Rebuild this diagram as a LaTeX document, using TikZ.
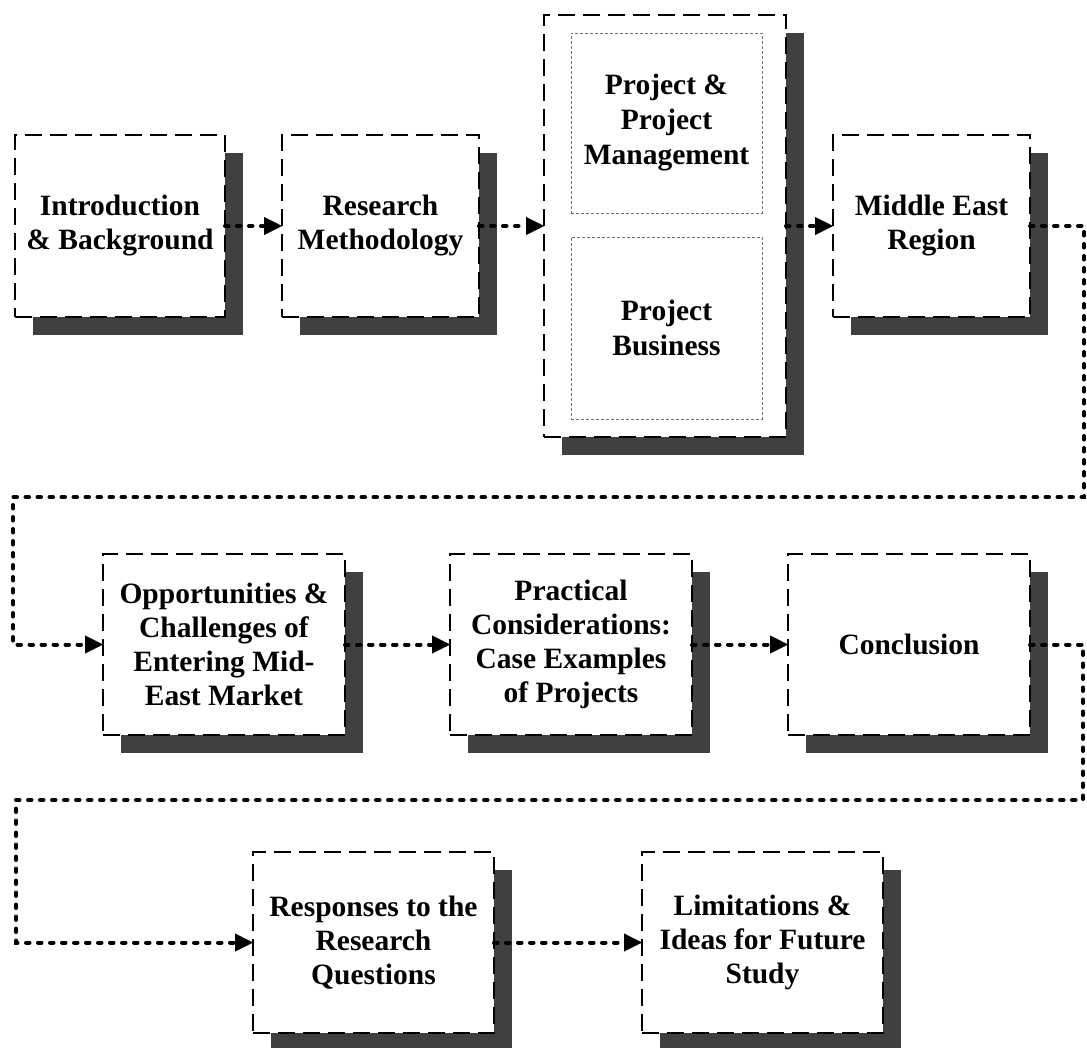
\documentclass[tikz,border=0pt]{standalone}
\usepackage{fontspec}
\setmainfont{Liberation Serif}
\usetikzlibrary{arrows.meta,shadows}
\definecolor{shadowgray}{HTML}{404040}
\definecolor{innergray}{HTML}{707070}
\begin{document}
\begin{tikzpicture}[x=1pt,y=-1pt,
  box/.style={draw=black, fill=white, line width=2.4pt, dash pattern=on 17pt off 8pt,
    rectangle, inner sep=0pt, outer sep=0pt, align=center,
    font=\fontsize{29.5}{34}\selectfont\bfseries,
    drop shadow={shadow xshift=18pt, shadow yshift=-18pt, fill=shadowgray, opacity=1, draw=none}},
  innerbox/.style={draw=innergray, line width=1pt, dash pattern=on 3pt off 2pt,
    rectangle, inner sep=0pt, outer sep=0pt, align=center,
    font=\fontsize{29.5}{35}\selectfont\bfseries},
  conn/.style={line width=4pt, dash pattern=on 3.5pt off 8.5pt, line cap=round,
    -{Triangle[length=18pt,width=18pt,line width=0.1pt]}}
]
\useasboundingbox (0,0) rectangle (1087,1047);
% Row 1
\node[box, minimum width=210, minimum height=182] (intro) at (120,226) {Introduction\\\& Background};
\node[box, minimum width=197, minimum height=182] (res) at (380.5,226) {Research\\Methodology};
\node[box, minimum width=242, minimum height=422] (big) at (665,226) {};
\node[innerbox, minimum width=191, minimum height=180] (pm) at (666.5,123) {Project \&\\Project\\Management};
\node[innerbox, minimum width=191, minimum height=182] (pb) at (666.5,328) {Project\\Business};
\node[box, minimum width=197, minimum height=182] (me) at (931.5,226) {Middle East\\Region};
% Row 2
\node[box, minimum width=242, minimum height=181] (opp) at (224,644.5) {Opportunities \&\\Challenges of\\Entering Mid-\\East Market};
\node[box, minimum width=242, minimum height=181] (prac) at (571,644.5) {Practical\\Considerations:\\Case Examples\\of Projects};
\node[box, minimum width=242, minimum height=181] (concl) at (909,644.5) {Conclusion};
% Row 3
\node[box, minimum width=241, minimum height=181] (resp) at (373.5,942.5) {Responses to the\\Research\\Questions};
\node[box, minimum width=241, minimum height=181] (lim) at (762.5,942.5) {Limitations \&\\Ideas for Future\\Study};
% turning points
\coordinate (c1) at (1084,497);
\coordinate (c2) at (13,497);
\coordinate (c3) at (1083,800);
\coordinate (c4) at (16,800);
% connectors
\draw[conn] (intro.east) -- (res.west);
\draw[conn] (res.east) -- (big.west);
\draw[conn] (big.east) -- (me.west);
\draw[conn] (me.east) -| (c1) -- (c2) |- (opp.west);
\draw[conn] (opp.east) -- (prac.west);
\draw[conn] (prac.east) -- (concl.west);
\draw[conn] (concl.east) -| (c3) -- (c4) |- (resp.west);
\draw[conn] (resp.east) -- (lim.west);
\end{tikzpicture}
\end{document}
